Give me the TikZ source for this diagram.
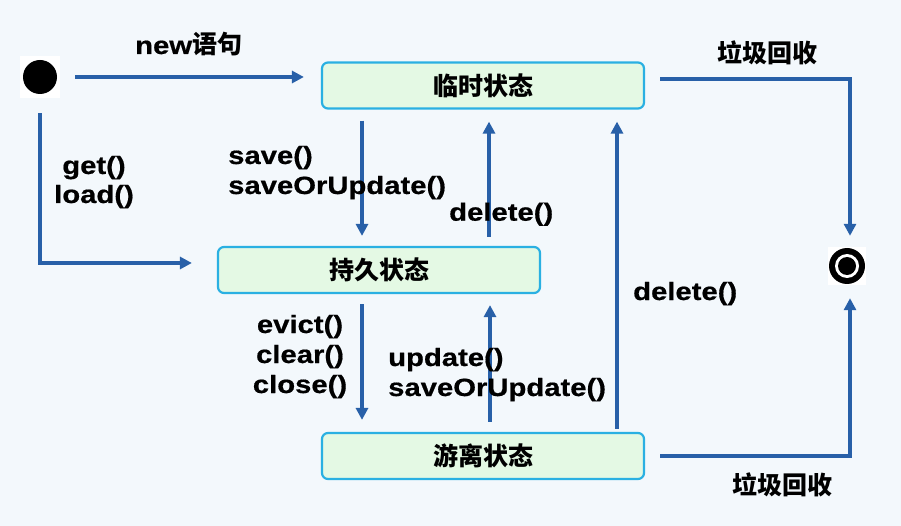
\documentclass[tikz,border=0pt]{standalone}
\usepackage{fontspec}
\newfontfamily\lbl[FakeStretch=1.17,FakeBold=0.6]{Liberation Sans}
\newfontfamily\cjk{Noto Sans CJK SC}
\usetikzlibrary{arrows.meta}
\definecolor{bg}{RGB}{243,248,252}
\definecolor{arrowblue}{RGB}{40,96,168}
\definecolor{boxline}{RGB}{42,176,226}
\definecolor{boxfill}{RGB}{228,249,228}
\begin{document}
\begin{tikzpicture}[x=1pt,y=-1pt,
  state/.style={draw=boxline, fill=boxfill, line width=2.2pt, rounded corners=6pt,
    minimum width=322pt, minimum height=46pt, inner sep=0pt,
    font=\cjk\bfseries\fontsize{25}{25}\selectfont},
  arr/.style={draw=arrowblue, line width=3.5pt, -{Triangle[length=12pt,width=12pt]}},
  lab/.style={font=\lbl\bfseries\fontsize{25}{25}\selectfont, inner sep=0pt},
  cjklab/.style={font=\cjk\bfseries\fontsize{25}{25}\selectfont, inner sep=0pt}]
\fill[bg] (0,0) rectangle (901,526);
\useasboundingbox (0,0) rectangle (901,526);

% start and end markers
\fill[white] (20,56) rectangle (60,98);
\node[circle, fill=black, minimum size=34pt, inner sep=0pt] (s) at (40,77) {};
\fill[white] (828,247) rectangle (866,285);
\node[circle, fill=black, minimum size=36pt, inner sep=0pt] (e) at (847,266) {};
\fill[white] (e) circle (12pt);
\fill[black] (e) circle (9pt);

% states
\node[state] (t) at (483,85.5) {临时状态};
\node[state] (p) at (379,270) {持久状态};
\node[state] (d) at (483,456) {游离状态};

% connectors
\draw[arr, shorten <=18pt, shorten >=17pt] (s.east) -- (s.east -| t.west);
\draw[arr, shorten <=19pt, shorten >=25pt] (s.south) |- ([yshift=7pt]p.west);
\draw[arr, shorten <=11pt, shorten >=10pt] ([xshift=-121pt]t.south) -- ([xshift=-17pt]p.north);
\draw[arr, shorten <=9pt, shorten >=12pt] ([xshift=110pt]p.north) -- ([xshift=6pt]t.south);
\draw[arr, shorten <=10pt, shorten >=12pt] ([xshift=-17pt]p.south) -- ([xshift=-121pt]d.north);
\draw[arr, shorten <=10pt, shorten >=11pt] ([xshift=7pt]d.north) -- ([xshift=111pt]p.south);
\draw[arr, shorten <=3pt, shorten >=12pt] ([xshift=134pt]d.north) -- ([xshift=134pt]t.south);
\draw[arr, shorten <=15pt, shorten >=12pt] ([yshift=6.5pt]t.east) -| ([xshift=3pt]e.north);
\draw[arr, shorten <=15pt, shorten >=14pt] (d.east) -| ([xshift=3pt]e.south);

% labels
\node[lab, anchor=base west] (lnew) at (135,54) {new{\cjk\fontsize{25}{25}\selectfont 语句}};
\node[lab, anchor=base] (lget) at (94,174) {get()};
\node[lab, anchor=base] (lload) at (94,203) {load()};
\node[lab, anchor=base west] (lsave) at (228,164) {save()};
\node[lab, anchor=base west] (lsou) at (228,194) {saveOrUpdate()};
\node[lab, anchor=base west] (ldel1) at (449,220.7) {delete()};
\node[lab, anchor=base] (lev) at (300,333) {evict()};
\node[lab, anchor=base] (lcl) at (300,363) {clear()};
\node[lab, anchor=base] (lclo) at (300,393) {close()};
\node[lab, anchor=base west] (lup) at (388,366) {update()};
\node[lab, anchor=base west] (lsou2) at (388,396) {saveOrUpdate()};
\node[lab, anchor=base west] (ldel2) at (633,300) {delete()};
\node[cjklab] (lgc1) at (767,53.3) {垃圾回收};
\node[cjklab] (lgc2) at (782,484.7) {垃圾回收};
\end{tikzpicture}
\end{document}
